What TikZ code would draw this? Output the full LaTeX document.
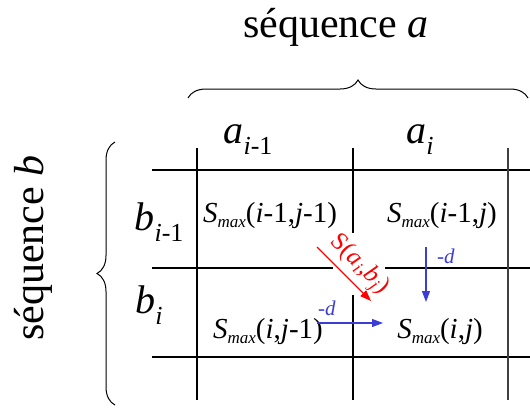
\documentclass[tikz,border=0pt]{standalone}
\usepackage{fontspec}
\setmainfont{Liberation Serif}
\usetikzlibrary{decorations.pathreplacing,arrows.meta}
\definecolor{myblue}{RGB}{60,60,215}
\definecolor{myred}{RGB}{255,0,0}
\newcommand\hsub[1]{\raisebox{-11pt}{\fontsize{26}{28}\selectfont #1}}
\newcommand\csub[1]{\raisebox{-5pt}{\fontsize{17}{19}\selectfont #1}}
\tikzset{
  hline/.style={line width=2.2pt,black},
  vline/.style={line width=1.1pt,black},
  bracestyle/.style={line width=1pt,decorate,decoration={brace,amplitude=18pt}},
  big/.style={font=\fontsize{42}{46}\selectfont,anchor=base,inner sep=0pt},
  headtxt/.style={font=\fontsize{40}{44}\selectfont,anchor=base,inner sep=0pt},
  celltxt/.style={font=\fontsize{29}{32}\selectfont,anchor=base,inner sep=0pt},
  bluearrow/.style={myblue,line width=1.1pt,-{Triangle[length=11pt,width=8pt]}},
  redarrow/.style={myred,line width=1.1pt,-{Triangle[length=11pt,width=8pt]}},
  bluelbl/.style={myblue,font=\fontsize{21}{23}\selectfont,anchor=base,inner sep=0pt},
  redlbl/.style={myred,font=\fontsize{25}{27}\selectfont,inner sep=0pt},
}
\begin{document}
\begin{tikzpicture}[x=1pt,y=-1pt]
\useasboundingbox (0,0) rectangle (530,408);
% titles
\node[big] (seqa) at (336,37) {séquence \textit{a}};
\node[big,rotate=90] (seqb) at (43,248) {séquence \textit{b}};
% braces
\draw[bracestyle] (188,98) -- (528,98);
\draw[bracestyle] (115,405) -- (115,142);
% grid
\draw[hline] (152,170) -- (530,170);
\draw[hline] (152,268) -- (333,268);
\draw[hline] (385,268) -- (530,268);
\draw[hline] (152,357) -- (530,357);
\draw[vline] (197,148) -- (197,400);
\draw[vline] (353,148) -- (353,233);
\draw[vline] (353,295) -- (353,400);
\draw[vline,black!75] (508,148) -- (508,400);
% headers
\node[headtxt] (ai1) at (248,143) {\textit{a}\hsub{\textit{i}-1}};
\node[headtxt] (ai) at (420,143) {\textit{a}\hsub{\textit{i}}};
\node[headtxt] (bi1) at (159,230) {\textit{b}\hsub{\textit{i}-1}};
\node[headtxt] (bi) at (149,313) {\textit{b}\hsub{\textit{i}}};
% cells
\node[celltxt] (c11) at (270,222) {\textit{S}\csub{\textit{max}}(\textit{i}-1,\textit{j}-1)};
\node[celltxt] (c12) at (442,222) {\textit{S}\csub{\textit{max}}(\textit{i}-1,\textit{j})};
\node[celltxt] (c21) at (268,338) {\textit{S}\csub{\textit{max}}(\textit{i},\textit{j}-1)};
\node[celltxt] (c22) at (440,338) {\textit{S}\csub{\textit{max}}(\textit{i},\textit{j})};
% arrows
\coordinate (vs) at (426,247);
\coordinate (ve) at (426,302);
\draw[bluearrow] (vs) -- (ve);
\node[bluelbl] (vd) at (446,263) {-\textit{d}};
\coordinate (hs) at (317,323);
\coordinate (he) at (383,323);
\draw[bluearrow] (hs) -- (he);
\node[bluelbl] (hd) at (327,315) {-\textit{d}};
\coordinate (rs) at (317,247);
\coordinate (re) at (371,301);
\draw[redarrow] (rs) -- (re);
\node[redlbl,rotate=-45] (rl) at (359,265) {S(\textit{a}\textsubscript{\textit{i}},\textit{b}\textsubscript{\textit{j}})};
\end{tikzpicture}
\end{document}
